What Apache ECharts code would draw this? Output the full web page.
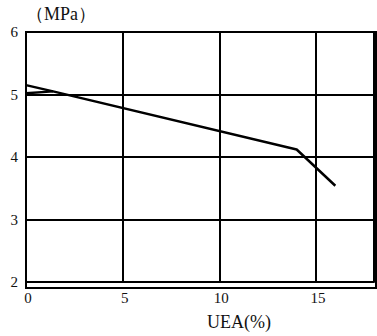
<!DOCTYPE html>
<html>
<head>
<meta charset="utf-8">
<script src="https://cdn.jsdelivr.net/npm/echarts@6/dist/echarts.min.js"></script>
<style>
  html, body { margin: 0; padding: 0; background: #fff; }
  #chart { width: 377px; height: 336px; }
</style>
</head>
<body>
<div id="chart"></div>
<script>
// 数据
const strengthLine = [[0, 5.15], [1.4, 5.05], [14, 4.12], [16, 3.54]]
const startStub = [[0, 5.02], [1.4, 5.05]]
const xTicks = [0, 5, 10, 15]
const yTicks = [2, 3, 4, 5, 6]

const serif = '"Liberation Serif", "DejaVu Serif", serif'
const chart = echarts.init(document.getElementById('chart'), null, { renderer: 'svg' })
chart.setOption({
  animation: false,
  grid: { left: 26, right: 1, top: 32, bottom: 48 },
  xAxis: {
    type: 'value',
    min: 0,
    max: 18,
    interval: 5,
    name: 'UEA(%)',
    nameLocation: 'middle',
    nameGap: 31,
    nameTextStyle: { fontFamily: serif, fontSize: 18, color: '#111', padding: [0, 0, 0, 78] },
    axisLine: { lineStyle: { color: '#000', width: 2 } },
    axisTick: { show: false },
    axisLabel: {
      fontFamily: serif, fontSize: 15, color: '#111', margin: 8,
      padding: [0, 0, 0, 4],
      formatter: v => xTicks.includes(v) ? String(v) : ''
    },
    splitLine: { lineStyle: { color: '#000', width: 2 } }
  },
  yAxis: {
    type: 'value',
    min: 2,
    max: 6,
    interval: 1,
    name: '（MPa）',
    nameLocation: 'end',
    nameGap: 9,
    nameTextStyle: { fontFamily: serif, fontSize: 18, color: '#111', align: 'left', padding: [0, 0, 0, 0] },
    axisLine: { show: true, lineStyle: { color: '#000', width: 2 } },
    axisTick: { show: false },
    axisLabel: {
      fontFamily: serif, fontSize: 15, color: '#111', margin: 8,
      formatter: v => yTicks.includes(v) ? String(v) : ''
    },
    splitLine: { lineStyle: { color: '#000', width: 2 } }
  },
  series: [
    {
      type: 'line',
      data: strengthLine,
      symbol: 'none',
      lineStyle: { color: '#000', width: 2.5 }
    },
    {
      type: 'line',
      data: startStub,
      symbol: 'none',
      lineStyle: { color: '#000', width: 2.5 }
    }
  ]
})
// 右边框
chart.setOption({
  graphic: [{
    type: 'rect',
    shape: { x: 26, y: 32, width: 350, height: 256 },
    style: { fill: 'none', stroke: '#000', lineWidth: 2 },
    silent: true
  }]
})
</script>
</body>
</html>
